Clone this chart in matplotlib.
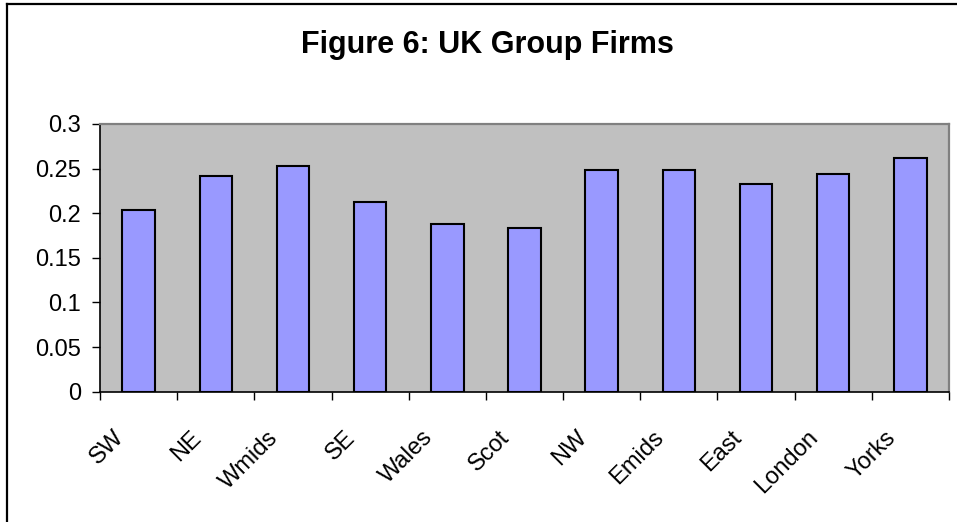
import matplotlib
matplotlib.use("Agg")
import matplotlib.pyplot as plt
from matplotlib.transforms import ScaledTranslation
from matplotlib.lines import Line2D
import numpy as np

categories = ["SW", "NE", "Wmids", "SE", "Wales", "Scot", "NW", "Emids", "East", "London", "Yorks"]
values = [0.204, 0.242, 0.253, 0.213, 0.188, 0.183, 0.248, 0.248, 0.233, 0.244, 0.262]
y_ticks = [0, 0.05, 0.1, 0.15, 0.2, 0.25, 0.3]
y_tick_labels = ["0", "0.05", "0.1", "0.15", "0.2", "0.25", "0.3"]
title = "Figure 6: UK Group Firms"

plt.rcParams['font.family'] = ['Liberation Sans', 'DejaVu Sans']

W, H = 957, 522
fig = plt.figure(figsize=(W / 100, H / 100), dpi=100)
fig.patch.set_facecolor("white")

# outer chart frame (left and top visible)
fig.add_artist(Line2D([7.5 / W, 7.5 / W], [0, 1 - 3.5 / H], transform=fig.transFigure, color="black", lw=1.6))
fig.add_artist(Line2D([7.5 / W, 1], [1 - 3.5 / H, 1 - 3.5 / H], transform=fig.transFigure, color="black", lw=1.6))

left, right, top, bottom = 100, 949, 124, 391.7
ax = fig.add_axes([left / W, 1 - bottom / H, (right - left) / W, (bottom - top) / H])
ax.set_facecolor("#C0C0C0")

x = np.arange(len(categories))
ax.bar(x, values, width=0.42, color="#9999FF", edgecolor="black", linewidth=1.5, zorder=3)

ax.set_xlim(-0.5, len(categories) - 0.5)
ax.set_ylim(0, 0.3)

ax.set_yticks(y_ticks)
ax.set_yticklabels(y_tick_labels, fontsize=17)
ax.tick_params(axis="y", direction="out", length=5.8, width=1, color="black", pad=8)

# major x ticks at category boundaries (marks), minor at centres (labels)
ax.set_xticks(np.arange(len(categories) + 1) - 0.5)
ax.set_xticklabels([])
ax.tick_params(axis="x", which="major", direction="out", length=5.8, width=1, color="black")
ax.set_xticks(x, minor=True)
ax.set_xticklabels(categories, minor=True, fontsize=17, rotation=45, ha="right", va="top",
                   rotation_mode="anchor")
ax.tick_params(axis="x", which="minor", length=0, pad=25)
for lbl in ax.get_xticklabels(minor=True):
    lbl.set_transform(lbl.get_transform() + ScaledTranslation(-26 / 100, 0, fig.dpi_scale_trans))

for s in ["left", "bottom"]:
    ax.spines[s].set_color("black")
    ax.spines[s].set_linewidth(1.2)
for s in ["top", "right"]:
    ax.spines[s].set_color("#808080")
    ax.spines[s].set_linewidth(1.6)

fig.text(487 / W, 1 - 53 / H, title, ha="center", va="baseline",
         fontsize=22, fontweight="bold")

fig.savefig("out.png", dpi=100)
